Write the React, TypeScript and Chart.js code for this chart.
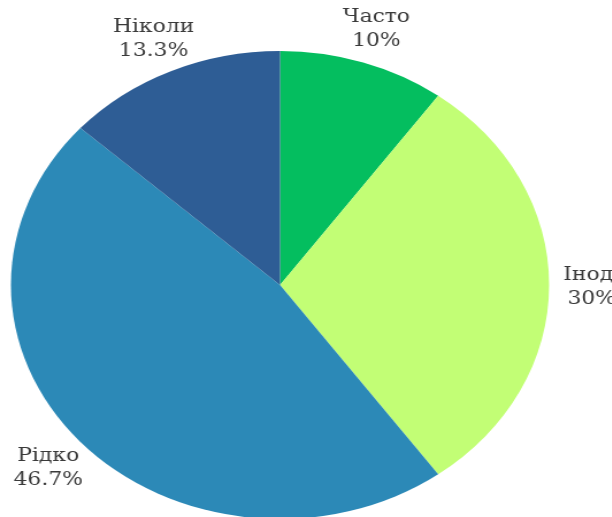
import React, { useEffect, useRef } from "react";
import { Chart, registerables } from "chart.js";

Chart.register(...registerables);

const categories = ["Часто", "Іноді", "Рідко", "Ніколи"];
const shares = [10, 30, 46.7, 13.3];
const sliceColors = ["#04BE5F", "#C2FE75", "#2C89B7", "#2E5D95"];

const LABEL_FONT = "'DejaVu Serif', serif";

// Two-line labels (name + percent) placed outside each slice along its mid angle
const outsideLabels = {
  id: "outsideLabels",
  afterDraw(chart: any) {
    const ctx = chart.ctx;
    const meta = chart.getDatasetMeta(0);
    ctx.save();
    ctx.font = "19px " + LABEL_FONT;
    ctx.fillStyle = "#3a3a3a";
    ctx.textAlign = "center";
    ctx.textBaseline = "middle";
    meta.data.forEach((arc: any, i: number) => {
      const { x, y, startAngle, endAngle, outerRadius } = arc.getProps(
        ["x", "y", "startAngle", "endAngle", "outerRadius"],
        true
      );
      const mid = (startAngle + endAngle) / 2;
      const r = outerRadius + 37;
      const lx = x + Math.cos(mid) * r;
      const ly = y + Math.sin(mid) * r + 2;
      ctx.fillText(categories[i], lx, ly - 12);
      ctx.fillText(`${shares[i]}%`, lx, ly + 12);
    });
    ctx.restore();
  },
};

export default function App() {
  const canvasRef = useRef<HTMLCanvasElement | null>(null);

  useEffect(() => {
    if (!canvasRef.current) return;
    const chart = new Chart(canvasRef.current, {
      type: "pie",
      data: {
        labels: categories,
        datasets: [
          {
            data: shares,
            backgroundColor: sliceColors,
            borderWidth: 0,
          },
        ],
      },
      options: {
        responsive: false,
        animation: false,
        devicePixelRatio: 1,
        layout: { padding: { top: 51, bottom: 21, left: 9.5, right: 54.5 } },
        plugins: {
          legend: { display: false },
          tooltip: { enabled: false },
        },
      },
      plugins: [outsideLabels],
    });
    return () => chart.destroy();
  }, []);

  return (
    <div
      style={{
        position: "fixed",
        left: 0,
        top: 0,
        width: 612,
        height: 517,
        overflow: "hidden",
        background: "#ffffff",
      }}
    >
      <canvas
        ref={canvasRef}
        width={532}
        height={540}
        style={{
          width: 532,
          height: 540,
          transform: "scaleX(1.15)",
          transformOrigin: "0 0",
          display: "block",
        }}
      />
    </div>
  );
}
